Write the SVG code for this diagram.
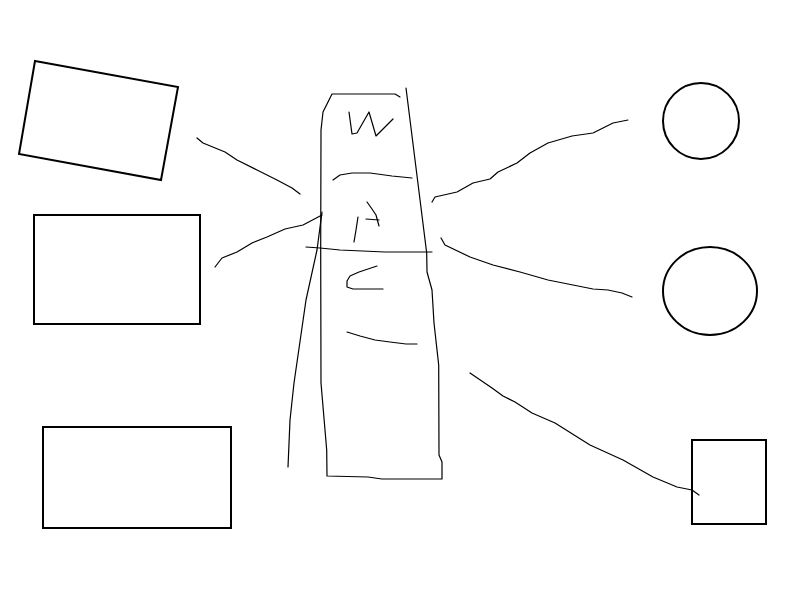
<svg xmlns="http://www.w3.org/2000/svg" width="800" height="600" viewBox="0 0 800 600">
<style>
.shape{fill:none;stroke:#000;stroke-width:2}
.ink{fill:none;stroke:#000;stroke-width:1.2;stroke-linejoin:round;stroke-linecap:round}
</style>
<rect width="800" height="600" fill="#fff"/>
<g id="node-tilted-rect"><polygon class="shape" points="35,61 178,87 161,180 19,154"/></g>
<g id="node-rect-mid"><rect class="shape" x="34" y="215" width="166" height="109"/></g>
<g id="node-rect-bottom"><rect class="shape" x="43" y="427" width="188" height="101"/></g>
<g id="node-circle-top"><circle class="shape" cx="701" cy="121" r="38"/></g>
<g id="node-circle-mid"><ellipse class="shape" cx="710" cy="291" rx="47" ry="44"/></g>
<g id="node-square"><rect class="shape" x="692" y="440" width="74" height="84"/></g>
<g id="node-column">
<polyline class="ink" points="400,97 395,94 332,94 323,112 321,130 320.7,250 321,383 326.7,450 327,476 368,477 382,479 442,479 442,462 439,455 438.7,365 434,323 432,290 427,272 426.7,253 406,88"/>
<polyline class="ink" points="322,212 317,250 306,300 294,383 290,420 288,467"/>
<polyline class="ink" points="306,247 320,248 340,250 385,252 432,252"/>
<polyline class="ink" points="349,112 352,134 357,133 369,112 376,136 393,119"/>
<polyline class="ink" points="333,180 340,175 352,173 370,173 392,176 412,178"/>
<polyline class="ink" points="367,202 372,209 376,215 379,226"/>
<polyline class="ink" points="358,217 356,230 354,242"/>
<polyline class="ink" points="366,219 379,220"/>
<polyline class="ink" points="377,266 359,272 350,276 347,281 347,287 353,289 383,289"/>
<polyline class="ink" points="347,332 360,336 375,340 390,342 406,344 417,344"/>
</g>
<g id="connectors">
<polyline class="ink" points="197,138 203,143 225,152 237,160 257,170 277,180 292,188 300,194"/>
<polyline class="ink" points="215,267 222,258 237,252 252,243 267,237 285,229 303,225 322,215"/>
<polyline class="ink" points="432,202 435,197 457,192 473,183 490,179 498,172 517,163 530,153 548,143 572,136 593,133 613,123 628,120"/>
<polyline class="ink" points="441,238 445,245 470,257 493,265 520,272 548,280 573,285 593,289 608,290 622,293 632,297"/>
<polyline class="ink" points="470,373 492,388 503,396 515,402 532,413 555,423 590,445 623,460 653,477 677,487 692,490 699,495"/>
</g>
</svg>
